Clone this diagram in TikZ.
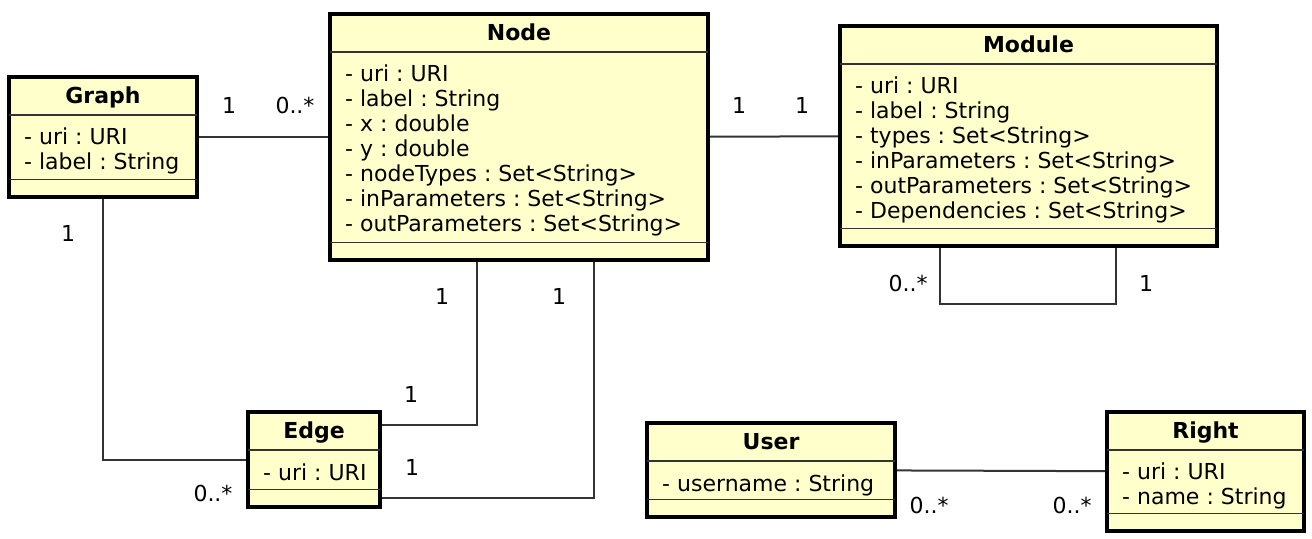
\documentclass[tikz,border=0pt]{standalone}
\usepackage{fontspec}
\setmainfont{DejaVu Sans}
\usetikzlibrary{fit,calc}
\frenchspacing

\definecolor{classfill}{RGB}{255,255,204}

\tikzset{classbox/.style = {draw, fill=classfill, line width=2.2pt, inner sep=0pt}}
\tikzset{classname/.style = {anchor=base, inner sep=0pt, font=\fontsize{11}{12.5}\selectfont\bfseries}}
\tikzset{attrs/.style = {anchor=north west, align=left, inner sep=0pt, execute at begin node=\strut, font=\fontsize{11}{12.5}\selectfont}}
\tikzset{divider/.style = {line width=0.7pt, black!80, shorten <=1.1pt, shorten >=1.1pt}}
\tikzset{assoc/.style = {line width=1pt, black!80}}
\tikzset{mult/.style = {anchor=base, inner sep=0pt, text=black, font=\fontsize{11}{12.5}\selectfont}}

\begin{document}
\begin{tikzpicture}[x=0.5pt, y=-0.5pt]
\useasboundingbox (0,0) rectangle (1312,538);

%classes
\node[classbox, fit={(9,77) (197,197)}] (cgraph) {};
\node[classbox, fit={(330,14) (708,260)}] (cnode) {};
\node[classbox, fit={(840,26) (1217,246)}] (cmodule) {};
\node[classbox, fit={(248,412) (380,507)}] (cedge) {};
\node[classbox, fit={(647,423) (895,517)}] (cuser) {};
\node[classbox, fit={(1107,412) (1304,531)}] (cright) {};

\foreach \c in {cgraph,cnode,cmodule,cedge,cuser,cright}{
  \draw[divider] ($(\c.north west)+(0,40)$) -- ($(\c.north east)+(0,40)$);
  \draw[divider] ($(\c.south west)+(0,-20)$) -- ($(\c.south east)+(0,-20)$);
}

%names
\node[classname] (cgraph-name) at ($(cgraph.north)+(0,29)$) {Graph};
\node[classname] (cnode-name) at ($(cnode.north)+(0,29)$) {Node};
\node[classname] (cmodule-name) at ($(cmodule.north)+(0,29)$) {Module};
\node[classname] (cedge-name) at ($(cedge.north)+(0,29)$) {Edge};
\node[classname] (cuser-name) at ($(cuser.north)+(0,29)$) {User};
\node[classname] (cright-name) at ($(cright.north)+(0,29)$) {Right};

%attributes
\node[attrs] (cgraph-attrs) at ($(cgraph.north west)+(17,52.5)$)
  {- uri : URI\\- label : String};
\node[attrs] (cnode-attrs) at ($(cnode.north west)+(17,52.5)$)
  {- uri : URI\\- label : String\\- x : double\\- y : double\\- nodeTypes : Set<String>\\- inParameters : Set<String>\\- outParameters : Set<String>};
\node[attrs] (cmodule-attrs) at ($(cmodule.north west)+(17,52.5)$)
  {- uri : URI\\- label : String\\- types : Set<String>\\- inParameters : Set<String>\\- outParameters : Set<String>\\- Dependencies : Set<String>};
\node[attrs] (cedge-attrs) at ($(cedge.north west)+(17,52.5)$) {- uri : URI};
\node[attrs] (cuser-attrs) at ($(cuser.north west)+(17,52.5)$) {- username : String};
\node[attrs] (cright-attrs) at ($(cright.north west)+(17,52.5)$)
  {- uri : URI\\- name : String};

%associations
\draw[assoc] (cgraph) -- (cnode)
  node[mult] at (229,113) {1} node[mult] at (295,113) {0..*};
\draw[assoc] (cnode) -- (cmodule)
  node[mult] at (739,113) {1} node[mult] at (802,113) {1};
\draw[assoc] (cgraph.south) |- (cedge.west)
  node[mult] at (68,241) {1} node[mult] at (213,501) {0..*};
\draw[assoc] (cedge.east |- 0,425) -| (cnode.south -| 477,0)
  node[mult] at (411,402) {1} node[mult] at (442,304) {1};
\draw[assoc] (cedge.east |- 0,498) -| (cnode.south -| 594,0)
  node[mult] at (412,475) {1} node[mult] at (559,304) {1};
\draw[assoc] (cmodule.south -| 940,0) -- (940,304) -| (cmodule.south -| 1116,0)
  node[mult] at (908,291) {0..*} node[mult] at (1146,291) {1};
\draw[assoc] (cuser) -- (cright)
  node[mult] at (929,513) {0..*} node[mult] at (1072,513) {0..*};

\end{tikzpicture}
\end{document}
